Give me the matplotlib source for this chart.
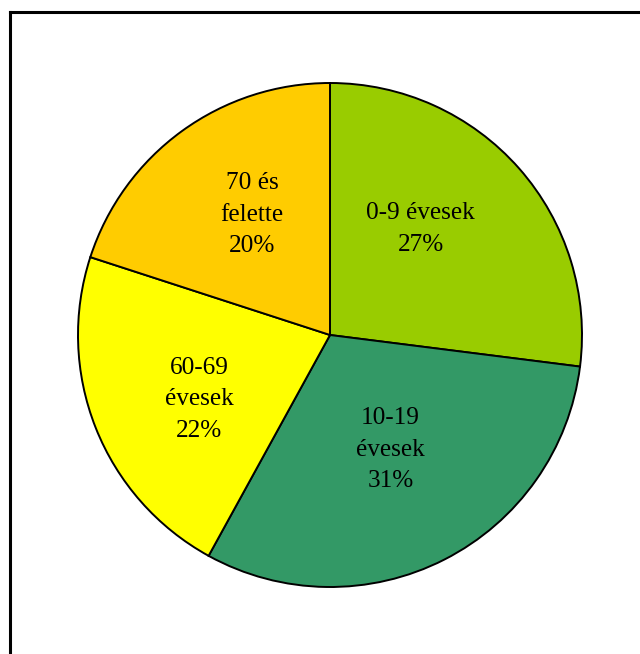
import matplotlib
matplotlib.use("Agg")
import matplotlib.pyplot as plt
from matplotlib.lines import Line2D

categories = ["0-9 évesek", "10-19\névesek", "60-69\névesek", "70 és\nfelette"]
shares = [27, 31, 22, 20]
colors = ["#99CC00", "#339966", "#FFFF00", "#FFCC00"]
# label centres in pie-radius units (layout only)
label_pos = [(0.36, 0.42), (0.24, -0.455), (-0.52, -0.255), (-0.31, 0.478)]

plt.rcParams["font.family"] = ["Liberation Serif", "DejaVu Serif"]

W, H = 640, 654
cx, cy, R = 330, 335, 252

fig = plt.figure(figsize=(W / 100, H / 100), dpi=100)
ax = fig.add_axes([0, 0, 1, 1])
ax.pie(shares, colors=colors, startangle=90, counterclock=False,
       wedgeprops=dict(edgecolor="black", linewidth=1.4))
for lab, val, (x, y) in zip(categories, shares, label_pos):
    ax.text(x, y, f"{lab}\n{val}%", ha="center", va="center",
            fontsize=18.2, linespacing=1.55)

ax.set_xlim(-cx / R, (W - cx) / R)
ax.set_ylim(-(H - cy) / R, cy / R)
ax.set_aspect("auto")
ax.axis("off")

# chart area border (only top and left edges visible)
fig.add_artist(Line2D([10 / W, 10 / W], [0, 1 - 12 / H], color="black",
                      linewidth=2.2, transform=fig.transFigure))
fig.add_artist(Line2D([10 / W, 1], [1 - 12 / H, 1 - 12 / H], color="black",
                      linewidth=2.2, transform=fig.transFigure))

fig.savefig("out.png", dpi=100)
